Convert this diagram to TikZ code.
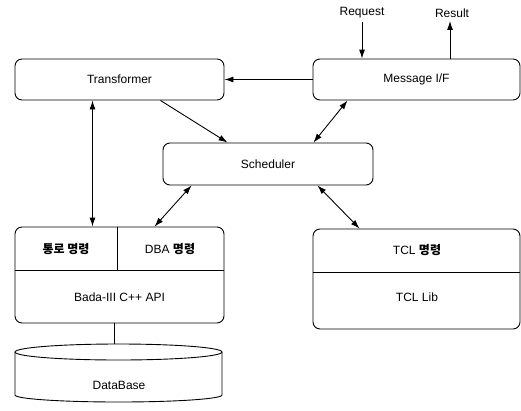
\documentclass[tikz,border=0pt]{standalone}
\usepackage{fontspec}
\setmainfont{Liberation Sans}
\newfontfamily\kr{Noto Sans CJK KR}
\usetikzlibrary{arrows.meta}
\tikzset{
	box/.style = {draw, line width=.9pt, rounded corners=7pt, minimum width=209pt, minimum height=41pt, inner sep=0pt},
	arr/.style = {line width=.9pt, -{Latex[length=9pt,width=6pt]}},
	darr/.style = {line width=.9pt, {Latex[length=9pt,width=6pt]}-{Latex[length=9pt,width=6pt]}}
}
\begin{document}
\begin{tikzpicture}[x=1pt, y=-1pt, font=\fontsize{12}{14}\selectfont]
		\useasboundingbox (0,0) rectangle (521,410);
		\node[box] (trans) at (119.5,79.5) {Transformer};
		\node[box, minimum width=207pt] (msg) at (416.5,79.5) {Message I/F};
		\node[box, minimum width=210pt, minimum height=42pt] (sched) at (268,164) {Scheduler};
		\node[box, minimum height=96pt] (api) at (119.5,275) {};
		\node[box, minimum width=207pt, minimum height=100pt] (tcl) at (416.5,279) {};
		\node (req) at (362,13) {Request};
		\node (res) at (452,13) {Result};
		\node (cmd1) at (66,249) {\kr\bfseries 통로 명령};
		\node (cmd2) at (170,249) {DBA {\kr\bfseries 명령}};
		\node (cppapi) at (119.5,297) {Bada-III C++ API};
		\node (cmd3) at (417,250) {TCL {\kr\bfseries 명령}};
		\node (tcllib) at (417,297) {TCL Lib};
		\node (dbname) at (119,385) {DataBase};
		\coordinate (dbtop) at (114.5,344);
		\draw[line width=.9pt] (api.west |- 0,270) -- (api.east |- 0,270);
		\draw[line width=.9pt] (117,270) -- (api.north -| 117,0);
		\draw[line width=.9pt] (tcl.west |- 0,272) -- (tcl.east |- 0,272);
		\draw[line width=.9pt] (118.5,352) ellipse [x radius=103.5, y radius=8];
		\draw[line width=.9pt] (15,352) -- (15,395) arc [start angle=180, end angle=0, x radius=103.5, y radius=7] -- (222,352);
		\draw[arr] (msg.west) -- (trans.east);
		\draw[arr] (req.south) -- (msg.north -| req.south);
		\draw[arr] (msg.north -| 450,0) -- (res.south -| 450,0);
		\draw[arr] ([xshift=-64pt]trans.south east) -- ([xshift=65pt]sched.north west);
		\draw[darr] ([xshift=35pt]msg.south west) -- ([xshift=-60pt]sched.north east);
		\draw[darr] ([xshift=-27pt]trans.south) -- ([xshift=-27pt]api.north);
		\draw[darr] ([xshift=29pt]sched.south west) -- ([xshift=140pt]api.north west);
		\draw[darr] ([xshift=-56pt]sched.south east) -- ([xshift=47pt]tcl.north west);
		\draw[line width=.9pt] ([xshift=-5pt]api.south) -- (dbtop);
		\end{tikzpicture}
\end{document}
